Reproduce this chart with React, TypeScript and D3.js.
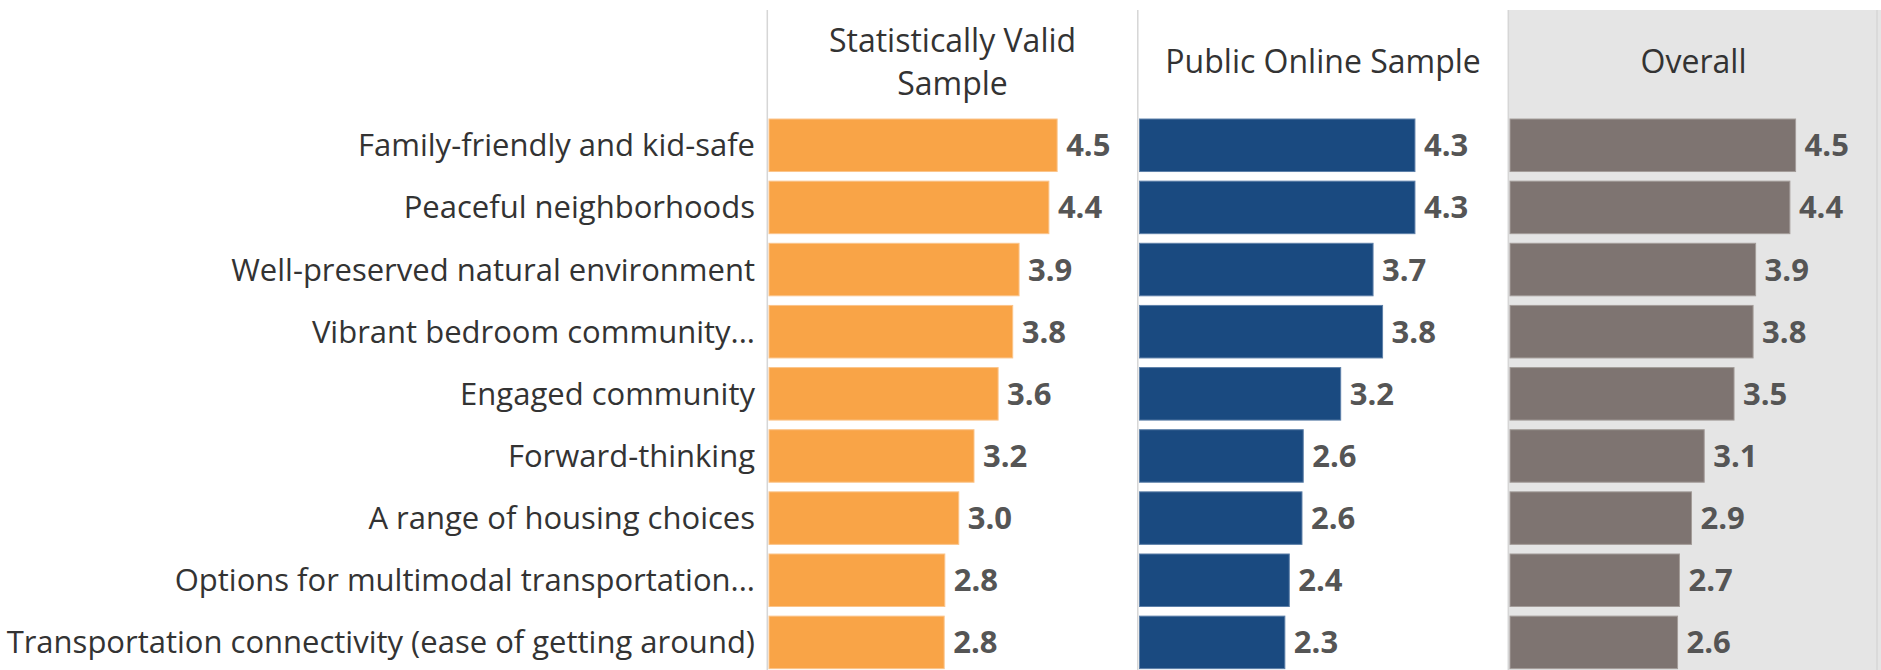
import React from "react";
import * as d3 from "d3";

const categories = [
  "Family-friendly and kid-safe",
  "Peaceful neighborhoods",
  "Well-preserved natural environment",
  "Vibrant bedroom community...",
  "Engaged community",
  "Forward-thinking",
  "A range of housing choices",
  "Options for multimodal transportation...",
  "Transportation connectivity (ease of getting around)",
];

const panelTitles = [["Statistically Valid", "Sample"], ["Public Online Sample"], ["Overall"]];

const statValid = [4.54, 4.41, 3.94, 3.84, 3.61, 3.23, 2.99, 2.77, 2.76];
const publicOnline = [4.34, 4.34, 3.68, 3.83, 3.17, 2.58, 2.56, 2.36, 2.29];
const overall = [4.5, 4.41, 3.87, 3.83, 3.53, 3.06, 2.86, 2.67, 2.64];

const series = [statValid, publicOnline, overall];
const colors = ["#F9A447", "#1A4A80", "#7E7471"];
const strokes = ["#FBC48A", "#5C7FA8", "#A39C99"];

const W = 1881;
const H = 670;
const panelLeft0 = 767.3;
const panelW = 370.5;
const FONT = "'Open Sans', sans-serif";

export default function App() {
  const x = d3.scaleLinear().domain([0, 5.83]).range([0, 370]);
  const y = d3
    .scaleBand<string>()
    .domain(categories)
    .range([114.2, 114.2 + 9 * 62.14])
    .paddingInner(0.155)
    .paddingOuter(0.0775);
  const bw = y.bandwidth();

  return (
    <div style={{ position: "absolute", left: 0, top: 0 }}>
      <svg width={W} height={H} style={{ display: "block" }}>
        <rect x={0} y={0} width={W} height={H} fill="#ffffff" />
        <rect x={panelLeft0 + 2 * panelW} y={10} width={W - (panelLeft0 + 2 * panelW)} height={H - 10} fill="#E5E5E5" />
        {[0, 1, 2, 3].map((i) => (
          <line
            key={"sep" + i}
            x1={i === 3 ? 1877 : panelLeft0 + i * panelW}
            x2={i === 3 ? 1877 : panelLeft0 + i * panelW}
            y1={10}
            y2={H}
            stroke="#D6D6D6"
            strokeWidth={1.5}
          />
        ))}
        {panelTitles.map((lines, p) => {
          const cx = panelLeft0 + p * panelW + panelW / 2;
          const ys = lines.length === 2 ? [52, 95] : [73];
          return lines.map((t, k) => (
            <text
              key={"t" + p + k}
              x={cx}
              y={ys[k]}
              textAnchor="middle"
              fontFamily={FONT}
              fontSize={32}
              fill="#333333"
            >
              {t}
            </text>
          ));
        })}
        {categories.map((c) => (
          <text
            key={"c" + c}
            x={755}
            y={(y(c) as number) + bw / 2 + 11}
            textAnchor="end"
            fontFamily={FONT}
            fontSize={31}
            fill="#333333"
          >
            {c}
          </text>
        ))}
        {series.map((vals, p) => {
          const left = panelLeft0 + p * panelW + 1.7;
          return categories.map((c, i) => {
            const yy = y(c) as number;
            const w = x(vals[i]);
            return (
              <g key={"b" + p + i}>
                <rect x={left} y={yy} width={w} height={bw} fill={colors[p]} stroke={strokes[p]} strokeWidth={1} />
                <text
                  x={left + w + 9}
                  y={yy + bw / 2 + 11}
                  fontFamily={FONT}
                  fontWeight="bold"
                  fontSize={31}
                  fill="#555555"
                >
                  {vals[i].toFixed(1)}
                </text>
              </g>
            );
          });
        })}
      </svg>
    </div>
  );
}
